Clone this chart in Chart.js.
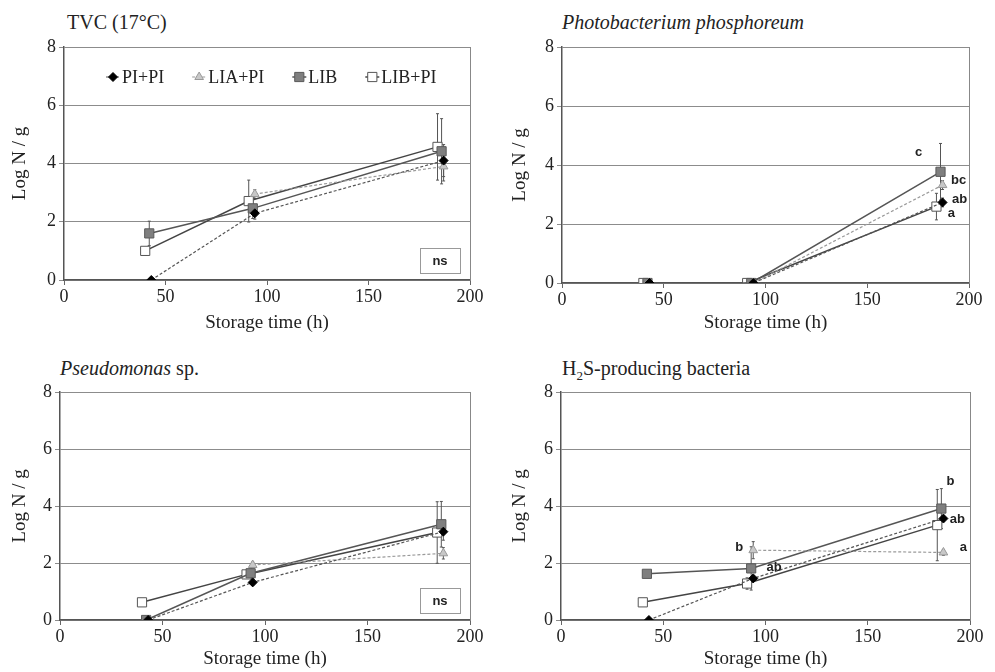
<!DOCTYPE html>
<html>
<head>
<meta charset="utf-8">
<script src="https://cdn.jsdelivr.net/npm/chart.js@4/dist/chart.umd.min.js"></script>
<style>
    body { margin: 0; background: #fff; width: 995px; height: 672px; overflow: hidden; position: relative;
           font-family: "Liberation Serif", Tinos, "Times New Roman", "DejaVu Serif", serif; color: #222; }
    canvas { position: absolute; }
    .ttl { position: absolute; font-size: 20px; color: #222; white-space: nowrap; }
    .ttl sub { font-size: 13px; }
</style>
</head>
<body>
<div class="ttl" style="left:67px; top:11px;">TVC (17°C)</div>
<div class="ttl" style="left:562px; top:11px;"><i>Photobacterium phosphoreum</i></div>
<div class="ttl" style="left:60px; top:357px;"><i>Pseudomonas</i> sp.</div>
<div class="ttl" style="left:562px; top:357px;">H<sub>2</sub>S-producing bacteria</div>

<canvas id="c1" width="497" height="336" style="left:0; top:0;"></canvas>
<canvas id="c2" width="498" height="336" style="left:497px; top:0;"></canvas>
<canvas id="c3" width="497" height="336" style="left:0; top:336px;"></canvas>
<canvas id="c4" width="498" height="336" style="left:497px; top:336px;"></canvas>

<script>
// ── DATOS ─────────────────────────────────────────────────────
const seriesNames = ['PI+PI', 'LIA+PI', 'LIB', 'LIB+PI'];
const seriesTimes = [
    [43, 94, 187],
    [43, 94, 187],
    [42, 93, 186],
    [40, 91, 184]
];
const xTicks = [0, 50, 100, 150, 200];
const yTicks = [0, 2, 4, 6, 8];

// TVC (17°C)
const tvcMean = [[0, 2.29, 4.10], [null, 2.95, 3.90], [1.60, 2.46, 4.42], [1.00, 2.71, 4.57]];
const tvcSd   = [[0, 0.20, 0.55], [0, 0.15, 0.50], [0.42, 0.35, 1.12], [0.10, 0.72, 1.14]];

// Photobacterium phosphoreum
const photoMean = [[0, 0, 2.73], [null, 0, 3.32], [0, 0, 3.77], [0, 0, 2.59]];
const photoSd   = [[0, 0, 0.15], [0, 0, 0.15], [0, 0, 0.96], [0, 0, 0.45]];
const photoLetters = [['', '', 'ab'], ['', '', 'bc'], ['', '', 'c'], ['', '', 'a']];

// Pseudomonas sp.
const pseudoMean = [[0, 1.32, 3.10], [null, 1.93, 2.34], [0, 1.64, 3.36], [0.62, 1.60, 3.07]];
const pseudoSd   = [[0, 0.10, 0.30], [0, 0.10, 0.20], [0, 0.15, 0.80], [0, 0.10, 1.08]];

// H2S-producing bacteria
const h2sMean = [[0, 1.46, 3.56], [null, 2.45, 2.37], [1.62, 1.81, 3.91], [0.62, 1.28, 3.33]];
const h2sSd   = [[0, 0.10, 0.10], [0, 0.30, 0.10], [0, 0.76, 0.70], [0, 0.20, 1.25]];
const h2sLetters = [['', '', 'ab'], ['', 'b', 'a'], ['', 'ab', 'b'], ['', '', '']];

// ── ESTILOS ───────────────────────────────────────────────────
const serif = '"Liberation Serif", Tinos, "Times New Roman", "DejaVu Serif", serif';
const sans  = '"Liberation Sans", Arimo, Arial, "DejaVu Sans", sans-serif';

const seriesStyle = [
    { pointStyle: 'rectRot',  radius: 4.5, fill: '#000', stroke: '#000', line: '#555', dash: [3, 2], width: 1.2 },
    { pointStyle: 'triangle', radius: 5,   fill: '#c8c8c8', stroke: '#999', line: '#9a9a9a', dash: [3, 2], width: 1.2 },
    { pointStyle: 'rect',     radius: 6.5, fill: '#7f7f7f', stroke: '#5a5a5a', line: '#555', dash: [], width: 1.5 },
    { pointStyle: 'rect',     radius: 6.5, fill: '#fff', stroke: '#555', line: '#444', dash: [], width: 1.5 }
];

// ── PLUGINS ───────────────────────────────────────────────────
const errorBars = {
    id: 'errorBars',
    beforeDatasetsDraw(chart) {
        const ctx = chart.ctx, xs = chart.scales.x, ys = chart.scales.y;
        ctx.save();
        ctx.strokeStyle = '#555';
        ctx.lineWidth = 1;
        chart.data.datasets.forEach(ds => {
            ds.data.forEach((p, i) => {
                const sd = ds.sd[i];
                if (p.y == null || !sd) return;
                const x  = xs.getPixelForValue(p.x);
                const y1 = ys.getPixelForValue(p.y + sd);
                const y2 = ys.getPixelForValue(Math.max(0, p.y - sd));
                ctx.beginPath();
                ctx.moveTo(x, y1); ctx.lineTo(x, y2);
                ctx.moveTo(x - 1.5, y1); ctx.lineTo(x + 1.5, y1);
                ctx.moveTo(x - 1.5, y2); ctx.lineTo(x + 1.5, y2);
                ctx.stroke();
            });
        });
        ctx.restore();
    }
};

const extras = {
    id: 'extras',
    afterDraw(chart, args, opts) {
        const ctx = chart.ctx, a = chart.chartArea;
        const xs = chart.scales.x, ys = chart.scales.y;
        ctx.save();
        // marco derecho
        ctx.strokeStyle = '#888';
        ctx.lineWidth = 1;
        ctx.beginPath();
        ctx.moveTo(Math.round(a.right) + 0.5, a.top);
        ctx.lineTo(Math.round(a.right) + 0.5, a.bottom);
        ctx.stroke();

        // caja "ns"
        if (opts.ns) {
            const w = 40, h = 25;
            const x = a.right - 10 - w, y = a.bottom - 7 - h;
            ctx.fillStyle = '#fff';
            ctx.fillRect(x, y, w, h);
            ctx.strokeStyle = '#999';
            ctx.strokeRect(x + 0.5, y + 0.5, w, h);
            ctx.fillStyle = '#222';
            ctx.font = 'bold 13px ' + sans;
            ctx.textAlign = 'center';
            ctx.textBaseline = 'middle';
            ctx.fillText('ns', x + w / 2, y + h / 2 + 1);
        }

        // letras de significancia
        if (opts.letters) {
            ctx.fillStyle = '#222';
            ctx.font = 'bold 13px ' + sans;
            ctx.textAlign = 'center';
            ctx.textBaseline = 'middle';
            opts.letters.forEach((row, s) => {
                row.forEach((txt, i) => {
                    if (!txt) return;
                    const p = chart.data.datasets[s].data[i];
                    const off = opts.offsets[s][i];
                    ctx.fillText(txt, xs.getPixelForValue(p.x) + off[0], ys.getPixelForValue(p.y) + off[1]);
                });
            });
        }

        // leyenda dentro del área
        if (opts.legend) {
            let x = a.left + 42;
            const y = a.top + 30;
            ctx.font = '18px ' + serif;
            ctx.textBaseline = 'middle';
            ctx.textAlign = 'left';
            seriesNames.forEach((name, s) => {
                const st = seriesStyle[s];
                ctx.strokeStyle = st.line;
                ctx.lineWidth = st.width;
                ctx.setLineDash(st.dash);
                ctx.beginPath();
                ctx.moveTo(x, y); ctx.lineTo(x + 14, y);
                ctx.stroke();
                ctx.setLineDash([]);
                ctx.fillStyle = st.fill;
                ctx.strokeStyle = st.stroke;
                ctx.lineWidth = 1;
                Chart.helpers.drawPoint(ctx, { pointStyle: st.pointStyle, radius: st.radius, rotation: 0, borderWidth: 1 }, x + 7, y);
                ctx.fillStyle = '#222';
                ctx.fillText(name, x + 16, y + 1);
                x += 16 + ctx.measureText(name).width + 28;
            });
        }
        ctx.restore();
    }
};

// ── CONSTRUCCIÓN ──────────────────────────────────────────────
function crearGrafica(id, means, sds, box, extraOpts) {
    const datasets = means.map((vals, s) => {
        const st = seriesStyle[s];
        return {
            label: seriesNames[s],
            data: vals.map((v, i) => ({ x: seriesTimes[s][i], y: v })),
            sd: sds[s],
            borderColor: st.line,
            borderWidth: st.width,
            borderDash: st.dash,
            backgroundColor: st.fill,
            pointStyle: st.pointStyle,
            pointRadius: st.radius,
            pointBackgroundColor: st.fill,
            pointBorderColor: st.stroke,
            pointBorderWidth: 1,
            tension: 0,
            spanGaps: false
        };
    });

    return new Chart(document.getElementById(id), {
        type: 'line',
        data: { datasets },
        plugins: [errorBars, extras],
        options: {
            responsive: false,
            animation: false,
            layout: { padding: { left: box.padLeft, right: box.padRight, top: box.top, bottom: 0 } },
            plugins: {
                legend: { display: false },
                tooltip: { enabled: false },
                extras: extraOpts
            },
            scales: {
                x: {
                    type: 'linear',
                    min: xTicks[0], max: xTicks[xTicks.length - 1],
                    afterBuildTicks: sc => { sc.ticks = xTicks.map(v => ({ value: v })); },
                    afterFit: sc => { sc.height = box.xHeight; },
                    grid: { drawOnChartArea: false, drawTicks: true, tickLength: 5, color: '#666' },
                    border: { color: '#555', width: 1.5 },
                    ticks: { color: '#222', font: { family: serif, size: 18 }, padding: 1, maxRotation: 0 },
                    title: { display: true, text: 'Storage time (h)', color: '#222',
                             font: { family: serif, size: 19 }, padding: { top: 0, bottom: 2 } }
                },
                y: {
                    min: yTicks[0], max: yTicks[yTicks.length - 1],
                    afterBuildTicks: sc => { sc.ticks = yTicks.map(v => ({ value: v })); },
                    afterFit: sc => { sc.width = box.yWidth; },
                    grid: { color: '#8c8c8c', lineWidth: 1, drawTicks: true, tickLength: 5 },
                    border: { color: '#555', width: 1.5 },
                    ticks: { color: '#222', font: { family: serif, size: 18 }, padding: 3 },
                    title: { display: true, text: 'Log N / g', color: '#222',
                             font: { family: serif, size: 19 }, padding: { top: 0, bottom: 0 } }
                }
            }
        }
    });
}

crearGrafica('c1', tvcMean, tvcSd,
    { padLeft: 9, yWidth: 55, padRight: 27, top: 47, xHeight: 56 },
    { ns: true, legend: true });

crearGrafica('c2', photoMean, photoSd,
    { padLeft: 12, yWidth: 53, padRight: 26, top: 47, xHeight: 53 },
    { letters: photoLetters,
      offsets: [[null, null, [17, -3]], [null, null, [16, -5]], [null, null, [-22, -19]], [null, null, [15, 7]]] });

crearGrafica('c3', pseudoMean, pseudoSd,
    { padLeft: 9, yWidth: 51, padRight: 27, top: 56, xHeight: 52 },
    { ns: true });

crearGrafica('c4', h2sMean, h2sSd,
    { padLeft: 12, yWidth: 52, padRight: 25, top: 56, xHeight: 52 },
    { letters: h2sLetters,
      offsets: [[null, null, [14, 1]], [null, [-14, -3], [20, -5]], [null, [23, -1], [9, -27]], [null, null, null]] });
</script>
</body>
</html>
